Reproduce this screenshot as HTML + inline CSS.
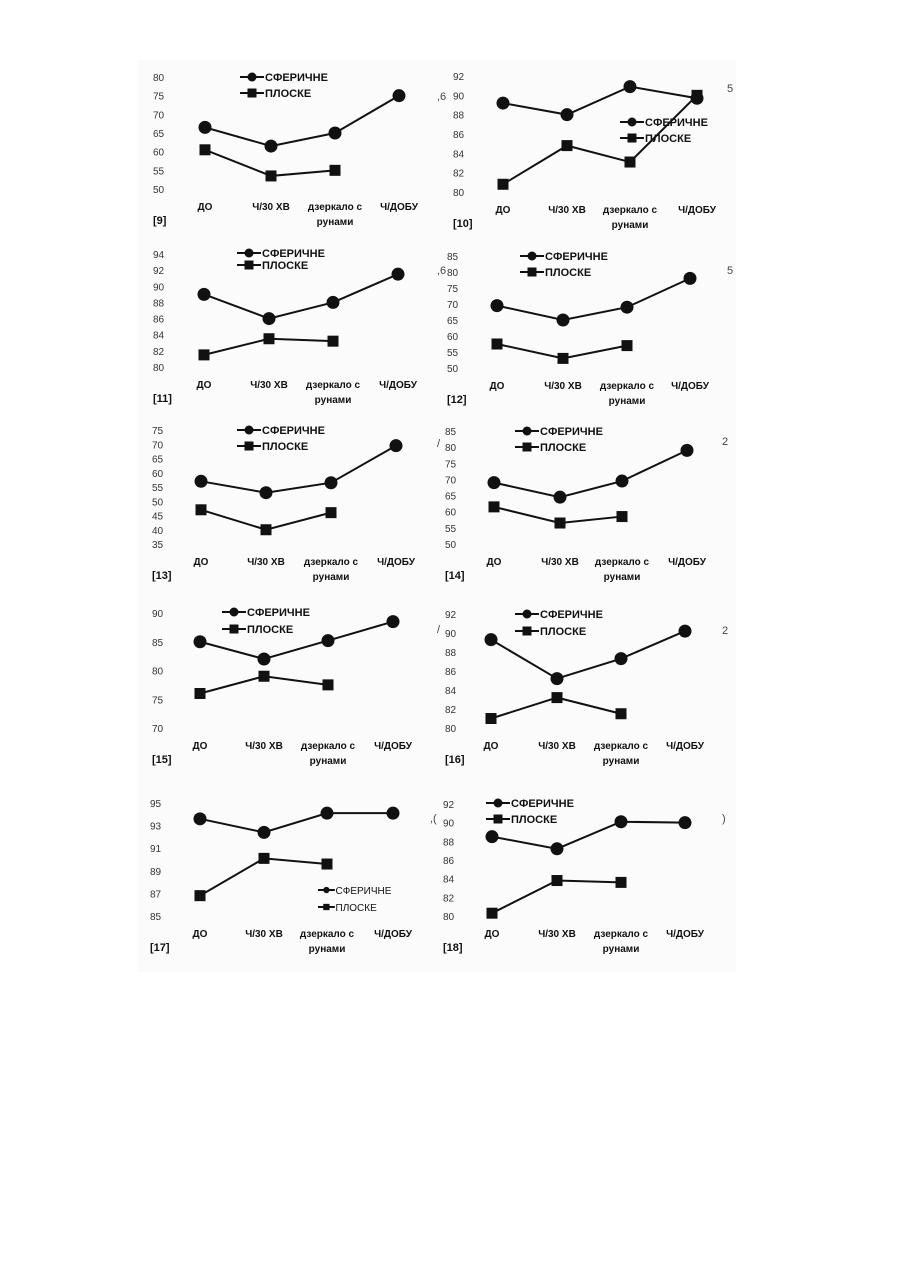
<!DOCTYPE html>
<html><head><meta charset="utf-8">
<style>
html,body{margin:0;padding:0;background:#fff;}
svg{display:block;}
text{font-family:"Liberation Sans","DejaVu Sans",sans-serif;}
</style></head>
<body>
<svg id="root" width="900" height="1273" viewBox="0 0 900 1273" xmlns="http://www.w3.org/2000/svg">
<rect x="138" y="60" width="598" height="912" fill="#fbfbfb"/>
</svg>
<script>
const categories = ["ДО","Ч/30 ХВ","дзеркало с","Ч/ДОБУ"];
const legendLabels = ["СФЕРИЧНЕ","ПЛОСКЕ"];
const panelIds = ["[9]","[10]","[11]","[12]","[13]","[14]","[15]","[16]","[17]","[18]"];

const ticks9 = [80,75,70,65,60,55,50];
const sph9 = [66.5,61.5,65,75];
const flat9 = [60.5,53.5,55];
const ticks10 = [92,90,88,86,84,82,80];
const sph10 = [89.2,88,90.9,89.7];
const flat10 = [80.8,84.8,83.1,90];
const ticks11 = [94,92,90,88,86,84,82,80];
const sph11 = [89,86,88,91.5];
const flat11 = [81.5,83.5,83.2];
const ticks12 = [85,80,75,70,65,60,55,50];
const sph12 = [69.5,65,69,78];
const flat12 = [57.5,53,57];
const ticks13 = [75,70,65,60,55,50,45,40,35];
const sph13 = [57,53,56.5,69.5];
const flat13 = [47,40,46];
const ticks14 = [85,80,75,70,65,60,55,50];
const sph14 = [69,64.5,69.5,79];
const flat14 = [61.5,56.5,58.5];
const ticks15 = [90,85,80,75,70];
const sph15 = [85,82,85.2,88.5];
const flat15 = [76,79,77.5];
const ticks16 = [92,90,88,86,84,82,80];
const sph16 = [89.3,85.2,87.3,90.2];
const flat16 = [81,83.2,81.5];
const ticks17 = [95,93,91,89,87,85];
const sph17 = [93.6,92.4,94.1,94.1];
const flat17 = [86.8,90.1,89.6];
const ticks18 = [92,90,88,86,84,82,80];
const sph18 = [88.5,87.2,90.1,90];
const flat18 = [80.3,83.8,83.6];

const NS = "http://www.w3.org/2000/svg";
const root = document.getElementById("root");
function mk(tag, attrs, parent){
  const e = document.createElementNS(NS, tag);
  for (const k in attrs) e.setAttribute(k, attrs[k]);
  (parent||root).appendChild(e);
  return e;
}
function txt(s, x, y, opts, parent){
  const t = mk("text", {x:x, y:y, "font-size":opts.size||10, "font-weight":opts.bold?"bold":"normal", fill:opts.fill||"#111", "text-anchor":opts.anchor||"start"}, parent);
  t.textContent = s;
  return t;
}

// layout: tick label x, top tick y, bottom tick y, category xs, legend x/y, legend style
const panels = [
  {id:0, ticks:ticks9, sph:sph9, flat:flat9, lx:153, y0:77, y1:189, cx:[205,271,335,399], lgx:240, lgy:77, lgdy:16},
  {id:1, ticks:ticks10, sph:sph10, flat:flat10, lx:453, y0:76, y1:192, cx:[503,567,630,697], lgx:620, lgy:122, lgdy:16},
  {id:2, ticks:ticks11, sph:sph11, flat:flat11, lx:153, y0:254, y1:367, cx:[204,269,333,398], lgx:237, lgy:253, lgdy:12},
  {id:3, ticks:ticks12, sph:sph12, flat:flat12, lx:447, y0:256, y1:368, cx:[497,563,627,690], lgx:520, lgy:256, lgdy:16},
  {id:4, ticks:ticks13, sph:sph13, flat:flat13, lx:152, y0:430, y1:544, cx:[201,266,331,396], lgx:237, lgy:430, lgdy:16},
  {id:5, ticks:ticks14, sph:sph14, flat:flat14, lx:445, y0:431, y1:544, cx:[494,560,622,687], lgx:515, lgy:431, lgdy:16},
  {id:6, ticks:ticks15, sph:sph15, flat:flat15, lx:152, y0:613, y1:728, cx:[200,264,328,393], lgx:222, lgy:612, lgdy:17},
  {id:7, ticks:ticks16, sph:sph16, flat:flat16, lx:445, y0:614, y1:728, cx:[491,557,621,685], lgx:515, lgy:614, lgdy:17},
  {id:8, ticks:ticks17, sph:sph17, flat:flat17, lx:150, y0:803, y1:916, cx:[200,264,327,393], lgx:318, lgy:890, lgdy:17, small:true},
  {id:9, ticks:ticks18, sph:sph18, flat:flat18, lx:443, y0:804, y1:916, cx:[492,557,621,685], lgx:486, lgy:803, lgdy:16}
];

panels.forEach(function(p){
  const g = mk("g", {});
  
  
  const tmax = p.ticks[0], tmin = p.ticks[p.ticks.length-1];
  const yS = v => p.y0 + (tmax - v) / (tmax - tmin) * (p.y1 - p.y0);
  // tick labels
  p.ticks.forEach(function(t){
    const e = txt(String(t), p.lx, yS(t)+4, {size:10, fill:"#333"}, g);
    
    
  });
  // category labels
  const ly = p.y1 + 21;
  categories.forEach(function(c, i){
    const e = txt(c, p.cx[i], ly, {size:10, bold:true, anchor:"middle"}, g);
    
    
  });
  const e2 = txt("рунами", p.cx[2], ly+15, {size:10, bold:true, anchor:"middle"}, g);
  
  
  const idl = txt(panelIds[p.id], p.lx, ly+14, {size:11, bold:true}, g);
  
  
  // series lines
  const sphPts = p.sph.map((v,i)=>p.cx[i]+","+yS(v)).join(" ");
  const l1 = mk("polyline", {points:sphPts, fill:"none", stroke:"#111", "stroke-width":2}, g);
  
  
  const flatPts = p.flat.map((v,i)=>p.cx[i]+","+yS(v)).join(" ");
  const l2 = mk("polyline", {points:flatPts, fill:"none", stroke:"#111", "stroke-width":2}, g);
  
  
  p.sph.forEach(function(v,i){
    const c = mk("circle", {cx:p.cx[i], cy:yS(v), r:6.5, fill:"#111"}, g);
    
    
  });
  p.flat.forEach(function(v,i){
    const r = mk("rect", {x:p.cx[i]-5.5, y:yS(v)-5.5, width:11, height:11, fill:"#111"}, g);
    
    
  });
  // legend
  const lg = mk("g", {}, g);
  
  
  const sz = p.small ? 0.7 : 1;
  [0,1].forEach(function(k){
    const yy = p.lgy + k*p.lgdy;
    mk("line", {x1:p.lgx, y1:yy, x2:p.lgx+24*sz, y2:yy, stroke:"#111", "stroke-width":2}, lg);
    if (k===0) mk("circle", {cx:p.lgx+12*sz, cy:yy, r:4.5*sz, fill:"#111"}, lg);
    else mk("rect", {x:p.lgx+12*sz-4.5*sz, y:yy-4.5*sz, width:9*sz, height:9*sz, fill:"#111"}, lg);
    const t = txt(legendLabels[k], p.lgx+25*sz, yy+4, {size:p.small?10:11, bold:!p.small}, lg);
    
    
  });
});
// stray scan marks
[[437,100,",6"],[727,92,"5"],[727,274,"5"],[722,445,"2"],[722,634,"2"],[722,822,")"],[430,822,",("],[437,447,"/"],[437,633,"/"],[437,274,",6"]].forEach(function(a){
  const t = txt(a[2], a[0], a[1], {size:11, fill:"#444"});
  
  
});
</script>
</body></html>
